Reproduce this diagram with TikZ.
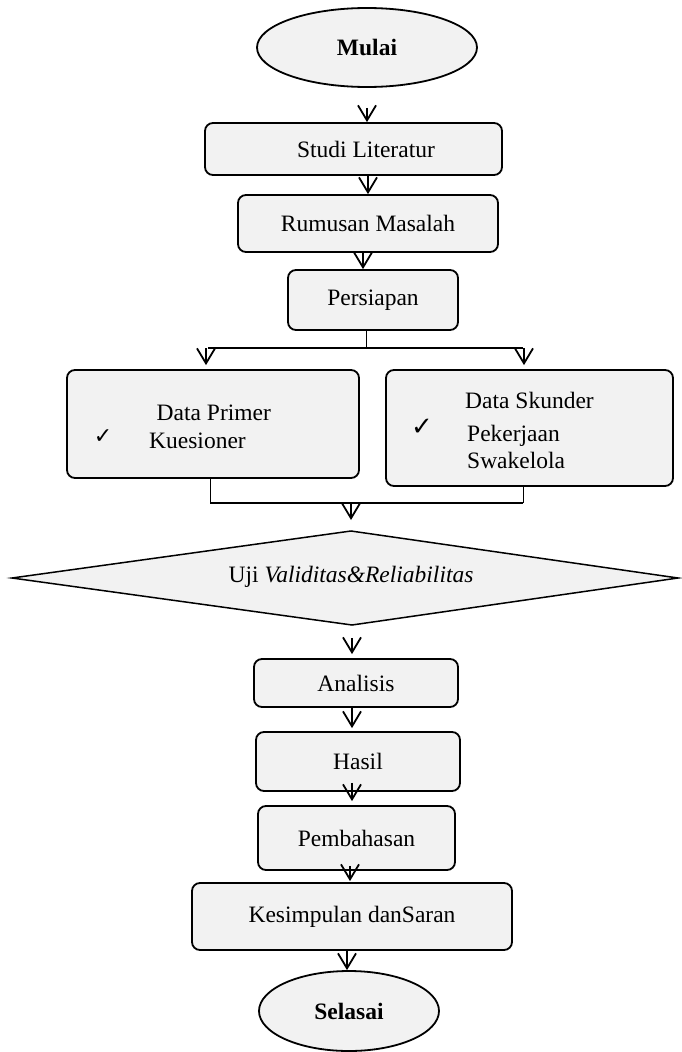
\documentclass[tikz,border=0pt]{standalone}
\usepackage{fontspec}
\setmainfont{Liberation Serif}
\newfontfamily\symfont{DejaVu Sans}
\usetikzlibrary{arrows.meta,shapes.geometric}
\definecolor{boxfill}{HTML}{F2F2F2}
\begin{document}
\begin{tikzpicture}[x=1pt,y=-1pt,
  every node/.style={font=\fontsize{23.5}{27}\selectfont},
  box/.style={draw, line width=1.8pt, rounded corners=8pt, fill=boxfill, inner sep=0pt},
  oval/.style={draw, ellipse, line width=1.8pt, fill=boxfill, inner sep=0pt, font=\fontsize{23.5}{27}\selectfont\bfseries},
  txt/.style={inner sep=0pt, anchor=base west},
  tick/.style={inner sep=0pt, font=\fontsize{22}{24}\selectfont\symfont},
  arr/.style={line width=1.8pt, -{Straight Barb[length=15pt,width=18pt]}},
  thickline/.style={line width=1.8pt},
  thinline/.style={line width=0.9pt},
]
\useasboundingbox (0,0) rectangle (681,1052);

% nodes
\node[oval, minimum width=220pt, minimum height=79pt] (mulai) at (367,47.5) {Mulai};
\node[box, minimum width=297pt, minimum height=52pt] (studi) at (353.5,149) {\hspace*{25pt}Studi Literatur};
\node[box, minimum width=260pt, minimum height=57pt] (rumusan) at (368,223.5) {Rumusan Masalah};
\node[box, minimum width=170pt, minimum height=60pt] (persiapan) at (373,300) {Persiapan};

\node[box, minimum width=292pt, minimum height=108pt] (primer) at (213,424) {};
\node[txt] (primert) at (156.5,420) {Data Primer};
\node[tick] (primerc) at (103,437) {✓};
\node[txt] (primerk) at (149,448) {Kuesioner};

\node[box, minimum width=287pt, minimum height=116pt] (skunder) at (529.5,428) {};
\node[txt] (skundert) at (465,408) {Data Skunder};
\node[tick, font=\fontsize{26}{28}\selectfont\symfont] (skunderc) at (422,427) {✓};
\node[txt] (skunderp) at (467,441) {Pekerjaan};
\node[txt] (skunders) at (467,468) {Swakelola};

\coordinate (dl) at (12,578);
\coordinate (dt) at (351,531);
\coordinate (dr) at (678,578);
\coordinate (db) at (352,625);
\draw[line width=1.5pt, fill=boxfill] (dl) -- (dt) -- (dr) -- (db) -- cycle;
\node (uji) at (351,577) {Uji \textit{Validitas\&Reliabilitas}};

\node[box, minimum width=204pt, minimum height=48pt] (analisis) at (356,683) {Analisis};
\node[box, minimum width=204pt, minimum height=59pt] (hasil) at (358,761.5) {Hasil};
\node[box, minimum width=197pt, minimum height=64pt] (pembahasan) at (356.5,838) {Pembahasan};
\node[box, minimum width=320pt, minimum height=67pt] (kesimpulan) at (352,916.5) {Kesimpulan danSaran};
\node[oval, minimum width=180pt, minimum height=80pt] (selasai) at (349,1011) {Selasai};

% connectors
\draw[arr, shorten <=20pt] (mulai.south) -- (mulai.south |- studi.north);
\draw[arr] (rumusan.north |- studi.south) -- (rumusan.north);
\draw[arr] (363,0 |- rumusan.south) -- (363,0 |- persiapan.north);

\coordinate (splitc) at (366,348);
\coordinate (splitl) at (206,348);
\coordinate (splitr) at (524,348);
\draw[thinline] (splitc |- persiapan.south) -- (splitc);
\draw[thickline] ([xshift=2pt]splitl) -- ([xshift=-1pt]splitr);
\draw[arr, shorten >=4pt] (splitl) -- (splitl |- primer.north);
\draw[arr, shorten >=4pt] (splitr) -- (splitr |- skunder.north);

\coordinate (mergel) at (210,503);
\coordinate (merger) at (523,503);
\draw[thinline] (mergel |- primer.south) -- (mergel);
\draw[thinline] (merger |- skunder.south) -- (merger);
\draw[thickline] (mergel) -- (merger);
\draw[arr, shorten >=11pt] (dt |- mergel) -- (dt);

\draw[arr, shorten <=13pt, shorten >=4pt] (db) -- (db |- analisis.north);
\draw[arr, shorten >=3pt] (352,0 |- analisis.south) -- (352,0 |- hasil.north);
\draw[arr, shorten <=-9pt, shorten >=4pt] (352,0 |- hasil.south) -- (352,0 |- pembahasan.north);
\draw[arr, shorten <=-5pt, shorten >=1pt] (350,0 |- pembahasan.south) -- (350,0 |- kesimpulan.north);
\draw[arr] (347,0 |- kesimpulan.south) -- (347,0 |- selasai.north);
\end{tikzpicture}
\end{document}
